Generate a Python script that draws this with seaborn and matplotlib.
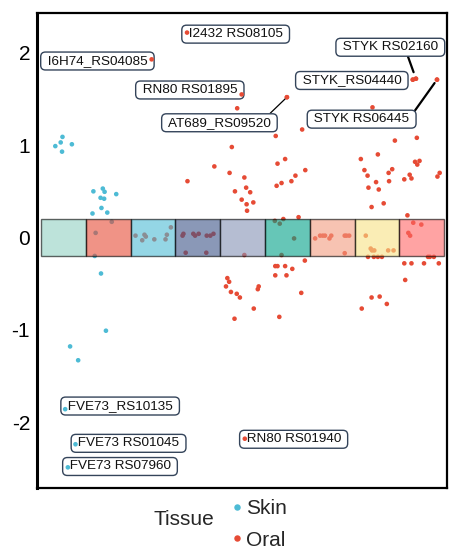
import matplotlib
matplotlib.use("Agg")
import matplotlib.pyplot as plt
import seaborn as sns
import pandas as pd

sns.set_style("white")
plt.rcParams["font.family"] = ["Liberation Sans", "DejaVu Sans"]
plt.rcParams["axes.unicode_minus"] = False

# ---------------- data ----------------
clusters = list(range(9))
tile_colors = ["#91D1C2", "#E64B35", "#4DBBD5", "#3C5488", "#8491B4",
               "#00A087", "#F39B7F", "#F7E184", "#FF6666"]

skin_x = [-0.18, -0.06, -0.02, 0.19, -0.03, 0.88, 0.67, 0.92, 1.18, 0.83, 0.91,
          0.85, 0.65, 0.98, 1.08, 0.72, 0.70, 0.84, 0.95, 0.15, 0.33]
skin_y = [0.99, 1.03, 1.09, 1.01, 0.93, 0.53, 0.50, 0.495, 0.47, 0.43, 0.42,
          0.32, 0.26, 0.27, 0.17, 0.05, -0.20, -0.39, -1.01, -1.18, -1.33]

oral_x = [1.61, 1.76, 1.81, 1.84, 2.03, 2.28, 2.31, 2.40,
          2.66, 2.68, 2.90, 2.94, 3.02, 3.20, 3.28, 3.35, 2.73, 3.19,
          4.04,
          3.76, 3.37, 2.77, 3.71, 4.04, 4.08, 4.17, 3.83, 3.98, 4.24, 4.09, 4.10, 3.88,
          4.74, 4.78, 4.95, 4.76, 4.87, 5.09, 5.18, 5.40, 5.33, 5.25,
          4.72, 4.83, 4.91, 5.15, 4.87,
          3.66, 3.70, 3.63, 3.74, 3.87, 3.94, 4.36, 4.34, 4.25, 3.82,
          4.73, 4.78, 4.95, 5.11, 4.73, 4.98, 5.31, 4.82, 5.39,
          5.62, 5.73, 5.79, 5.84, 5.94, 5.98, 6.28, 6.32, 6.38, 6.28,
          6.75, 6.86, 6.89, 6.94, 7.25, 7.37, 6.80, 6.93, 7.02, 7.11,
          7.68, 7.81, 7.99, 7.70, 7.74, 8.14, 8.18, 8.27, 7.61, 7.77, 8.05, 8.38, 7.63,
          6.88, 7.06, 7.22, 6.66,
          6.90, 7.40, 6.64, 7.02, 6.72, 6.79, 7.34, 7.26, 6.98, 7.27, 6.81, 7.04,
          6.88, 7.15, 7.89, 7.85, 7.95, 7.90, 7.61, 7.73, 7.77, 8.35, 8.40]
oral_y = [0.02, -0.03, 0.03, 0.01, -0.02, -0.02, 0.03, 0.11,
          0.02, 0.04, 0.04, 0.02, 0.04, 0.02, 0.02, 0.04, -0.165, -0.165,
          -0.19,
          0.98, 0.77, 0.61, 0.70, 0.65, 0.54, 0.49, 0.50, 0.41, 0.38, 0.36, 0.29, 1.40,
          1.10, 0.80, 0.85, 0.56, 0.59, 0.61, 0.67, 0.73, 1.17, 0.22,
          0.18, 0.15, 0.20, -0.01, -0.19,
          -0.44, -0.48, -0.53, -0.59, -0.61, -0.65, -0.53, -0.56, -0.77, -0.88,
          -0.31, -0.31, -0.31, -0.34, -0.41, -0.41, -0.60, -0.86, -0.25,
          -0.01, 0.02, 0.02, 0.02, -0.01, 0.02, 0.02, 0.02, 0.02, -0.17,
          0.02, -0.12, -0.14, -0.14, -0.14, -0.14, -0.21, -0.21, -0.21, -0.21,
          0.24, 0.16, 0.14, 0.05, 0.02, -0.21, -0.21, -0.21, -0.28, -0.28, -0.28, -0.28, -0.46,
          -0.65, -0.64, -0.72, -0.77,
          1.41, 1.05, 0.85, 0.90, 0.73, 0.67, 0.74, 0.70, 0.60, 0.61, 0.54, 0.52,
          0.33, 0.37, 1.08, 0.82, 0.83, 0.79, 0.63, 0.68, 0.64, 0.66, 0.70]

lab_gene = ["I6H74_RS04085", "I2432 RS08105", "RN80 RS01895", "AT689_RS09520",
            "STYK RS02160", "STYK_RS04440", "STYK RS06445", "FVE73_RS10135",
            "FVE73 RS01045", "FVE73 RS07960", "RN80 RS01940"]
lab_tissue = ["Oral", "Oral", "Oral", "Oral", "Oral", "Oral", "Oral",
              "Skin", "Skin", "Skin", "Oral"]
lab_x = [1.97, 2.76, 3.98, 4.99, 7.87, 7.80, 8.34, 0.04, 0.27, 0.10, 4.05]
lab_y = [1.93, 2.22, 1.55, 1.52, 1.72, 1.71, 1.71, -1.86, -2.24, -2.49, -2.18]
# label text positions (layout)
lab_tx = [-0.44, 2.71, 1.68, 2.26, 6.15, 5.25, 5.51, 0.01, 0.24, 0.05, 4.00]
lab_ty = [1.912, 2.203, 1.598, 1.243, 2.061, 1.701, 1.282, -1.826, -2.23, -2.481, -2.186]

palette = {"Skin": "#4DBBD5", "Oral": "#E64B35"}

df = pd.DataFrame({
    "x": skin_x + oral_x + lab_x,
    "y": skin_y + oral_y + lab_y,
    "Tissue": ["Skin"] * len(skin_x) + ["Oral"] * len(oral_x) + lab_tissue,
})
df["Tissue"] = pd.Categorical(df["Tissue"], ["Skin", "Oral"])
lab_df = pd.DataFrame({"x": lab_x, "y": lab_y, "Tissue": lab_tissue})

# ---------------- figure ----------------
fig = plt.figure(figsize=(4.5, 5.49), dpi=100)
ax = fig.add_axes([0.0822, 0.1111, 0.9111, 0.8652])

sns.scatterplot(data=df, x="x", y="y", hue="Tissue", palette=palette,
                s=11, linewidth=0, ax=ax, zorder=2)

ax.bar(clusters, 0.4, bottom=-0.2, width=1.0, color=tile_colors, alpha=0.6,
       edgecolor="black", linewidth=1.0, zorder=3)

box = dict(boxstyle="round,pad=0.22,rounding_size=0.35", fc="white",
           ec="#34445a", lw=1.0)
arrows = {
    "AT689_RS09520": dict(relpos=(0.93, 1.0), lw=0.9, shrinkB=1),
    "STYK RS02160": dict(relpos=(0.66, 0.0), lw=1.6, shrinkB=5),
    "STYK RS06445": dict(relpos=(1.0, 1.0), lw=1.6, shrinkB=3),
}
for g, px, py, tx, ty in zip(lab_gene, lab_x, lab_y, lab_tx, lab_ty):
    kw = {}
    if g in arrows:
        a = arrows[g]
        kw["arrowprops"] = dict(arrowstyle="-", color="black", lw=a["lw"],
                                relpos=a["relpos"], shrinkA=0, shrinkB=a["shrinkB"])
    ax.annotate(" " + g + " ", xy=(px, py), xytext=(tx, ty), textcoords="data",
                ha="left", va="center", fontsize=9.7, color="#111111",
                bbox=box, zorder=4, **kw)

sns.scatterplot(data=lab_df, x="x", y="y", hue="Tissue", palette=palette,
                s=11, linewidth=0, ax=ax, zorder=5, legend=False)

ax.set_xlim(-0.589, 8.563)
ax.set_ylim(-2.714, 2.432)
ax.set_xticks([])
ax.set_yticks([-2, -1, 0, 1, 2])
ax.tick_params(axis="y", length=0, pad=5, labelsize=15, labelcolor="black")
ax.set_xlabel("")
ax.set_ylabel("")
for name, sp in ax.spines.items():
    sp.set_visible(True)
    sp.set_color("black")
    sp.set_linewidth(2.2 if name == "left" else 1.6)

sns.move_legend(ax, loc="upper left", bbox_to_anchor=(0.513, 0.0913),
                bbox_transform=fig.transFigure, title=None, frameon=False,
                fontsize=15, markerscale=1.4, handlelength=0.6,
                handletextpad=0.15, labelspacing=0.61, borderpad=0,
                borderaxespad=0)
fig.text(0.408, 0.0546, "Tissue", ha="center", va="center", fontsize=15)

fig.savefig("out.png", dpi=100)
